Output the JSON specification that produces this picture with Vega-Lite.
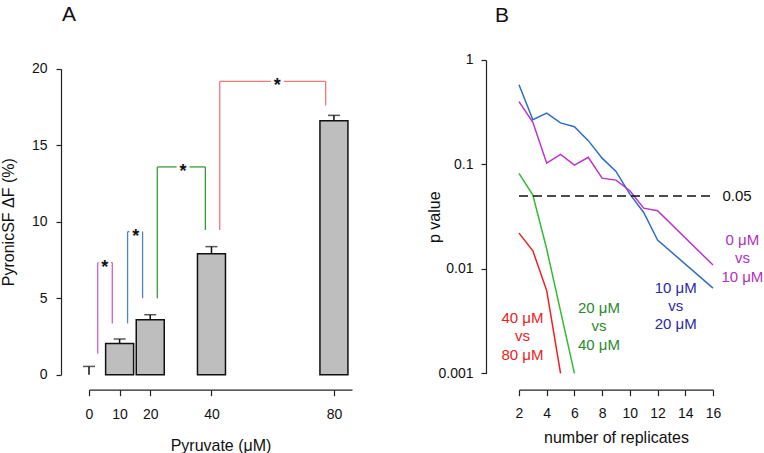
{
  "$schema": "https://vega.github.io/schema/vega-lite/v6.json",
  "padding": {"left": 0, "top": 4, "right": 0, "bottom": 0},
  "spacing": 74,
  "config": {
    "font": "Liberation Sans",
    "view": {"stroke": null},
    "axis": {"grid": false, "domainColor": "#222", "tickColor": "#222", "labelColor": "#111", "titleColor": "#111", "labelFontSize": 14, "titleFontSize": 16, "titleFontWeight": "normal", "domainWidth": 1.2, "tickWidth": 1.2, "labelFont": "Liberation Sans", "titleFont": "Liberation Sans", "labelOverlap": false, "labelFlush": false},
    "title": {"fontSize": 21, "fontWeight": "normal", "anchor": "start", "frame": "group", "font": "Liberation Sans", "color": "#111"}
  },
  "datasets": {
    "bars": [
      {"conc": 0, "mean": 0, "upper": 0.54},
      {"conc": 10, "mean": 2.04, "upper": 2.33},
      {"conc": 20, "mean": 3.59, "upper": 3.92},
      {"conc": 40, "mean": 7.9, "upper": 8.37},
      {"conc": 80, "mean": 16.6, "upper": 16.95}
    ],
    "brackets": [
      {"pair": "0 vs 10", "x": 2.84, "x2": 2.84, "y": 1.37, "y2": 7.33},
      {"pair": "0 vs 10", "x": 7.6, "x2": 7.6, "y": 3.35, "y2": 7.33},
      {"pair": "0 vs 10", "x": 2.84, "x2": 3.1, "y": 7.33, "y2": 7.33},
      {"pair": "0 vs 10", "x": 7.2, "x2": 7.6, "y": 7.33, "y2": 7.33},
      {"pair": "10 vs 20", "x": 12.6, "x2": 12.6, "y": 3.35, "y2": 9.35},
      {"pair": "10 vs 20", "x": 17.5, "x2": 17.5, "y": 5.0, "y2": 9.35},
      {"pair": "10 vs 20", "x": 12.6, "x2": 13.2, "y": 9.35, "y2": 9.35},
      {"pair": "10 vs 20", "x": 17.4, "x2": 17.5, "y": 9.35, "y2": 9.35},
      {"pair": "20 vs 40", "x": 22.3, "x2": 22.3, "y": 5.0, "y2": 13.58},
      {"pair": "20 vs 40", "x": 38.0, "x2": 38.0, "y": 9.45, "y2": 13.58},
      {"pair": "20 vs 40", "x": 22.3, "x2": 28.6, "y": 13.58, "y2": 13.58},
      {"pair": "20 vs 40", "x": 32.8, "x2": 38.0, "y": 13.58, "y2": 13.58},
      {"pair": "40 vs 80", "x": 42.7, "x2": 42.7, "y": 9.45, "y2": 19.17},
      {"pair": "40 vs 80", "x": 77.3, "x2": 77.3, "y": 17.6, "y2": 19.17},
      {"pair": "40 vs 80", "x": 42.7, "x2": 59.4, "y": 19.17, "y2": 19.17},
      {"pair": "40 vs 80", "x": 63.6, "x2": 77.3, "y": 19.17, "y2": 19.17}
    ],
    "stars": [
      {"x": 5.13, "y": 7.33},
      {"x": 15.3, "y": 9.35},
      {"x": 30.7, "y": 13.58},
      {"x": 61.5, "y": 19.17}
    ],
    "pvals": [
      {"comp": "10 vs 20", "n": 2, "p": 0.58},
      {"comp": "10 vs 20", "n": 3, "p": 0.268},
      {"comp": "10 vs 20", "n": 4, "p": 0.31},
      {"comp": "10 vs 20", "n": 5, "p": 0.25},
      {"comp": "10 vs 20", "n": 6, "p": 0.23},
      {"comp": "10 vs 20", "n": 7, "p": 0.169},
      {"comp": "10 vs 20", "n": 8, "p": 0.115},
      {"comp": "10 vs 20", "n": 9, "p": 0.0857},
      {"comp": "10 vs 20", "n": 10, "p": 0.052},
      {"comp": "10 vs 20", "n": 11, "p": 0.0347},
      {"comp": "10 vs 20", "n": 12, "p": 0.0189},
      {"comp": "10 vs 20", "n": 16, "p": 0.00655},
      {"comp": "0 vs 10", "n": 2, "p": 0.40},
      {"comp": "0 vs 10", "n": 3, "p": 0.253},
      {"comp": "0 vs 10", "n": 4, "p": 0.103},
      {"comp": "0 vs 10", "n": 5, "p": 0.125},
      {"comp": "0 vs 10", "n": 6, "p": 0.0987},
      {"comp": "0 vs 10", "n": 7, "p": 0.117},
      {"comp": "0 vs 10", "n": 8, "p": 0.074},
      {"comp": "0 vs 10", "n": 9, "p": 0.0708},
      {"comp": "0 vs 10", "n": 10, "p": 0.056},
      {"comp": "0 vs 10", "n": 11, "p": 0.0382},
      {"comp": "0 vs 10", "n": 12, "p": 0.036},
      {"comp": "0 vs 10", "n": 16, "p": 0.0109},
      {"comp": "20 vs 40", "n": 2, "p": 0.082},
      {"comp": "20 vs 40", "n": 3, "p": 0.051},
      {"comp": "20 vs 40", "n": 4, "p": 0.0155},
      {"comp": "20 vs 40", "n": 6, "p": 0.001},
      {"comp": "40 vs 80", "n": 2, "p": 0.022},
      {"comp": "40 vs 80", "n": 3, "p": 0.0149},
      {"comp": "40 vs 80", "n": 4, "p": 0.0062},
      {"comp": "40 vs 80", "n": 5, "p": 0.001}
    ],
    "threshold": [
      {"n": 2, "p": 0.05},
      {"n": 16, "p": 0.05}
    ],
    "thresholdLabel": [
      {"n": 16.68, "p": 0.05, "label": "0.05"}
    ],
    "groupLabels": [
      {"group": "0 vs 10", "n": 18.12, "p": 0.019, "label": "0 μM\nvs\n10 μM"},
      {"group": "10 vs 20", "n": 13.31, "p": 0.00664, "label": "10 μM\nvs\n20 μM"},
      {"group": "20 vs 40", "n": 7.77, "p": 0.00427, "label": "20 μM\nvs\n40 μM"},
      {"group": "40 vs 80", "n": 2.245, "p": 0.00342, "label": "40 μM\nvs\n80 μM"}
    ]
  },
  "hconcat": [
    {
      "width": 263,
      "height": 314.7,
      "title": {"text": "A", "dx": -27, "offset": 18, "baseline": "alphabetic"},
      "layer": [
        {
          "data": {"name": "brackets"},
          "mark": {"type": "rule", "strokeWidth": 1.3},
          "encoding": {
            "x": {"field": "x", "type": "quantitative", "scale": {"domain": [0, 85.9], "nice": false, "zero": false, "padding": 0},
                  "axis": {"title": "Pyruvate (μM)", "values": [0, 10, 20, 40, 80], "tickCount": 10, "format": "d", "offset": 15, "tickSize": 6, "labelPadding": 12, "titlePadding": 16, "labelFlush": false, "labelOverlap": false}},
            "x2": {"field": "x2"},
            "y": {"field": "y", "type": "quantitative", "scale": {"domain": [0, 20], "range": [314.7, 8.7], "nice": false},
                  "axis": {"title": "PyronicSF ΔF (%)", "values": [0, 5, 10, 15, 20], "tickCount": 10, "format": "d", "offset": 28, "tickSize": 5, "labelPadding": 9, "titlePadding": 15, "labelFlush": false, "labelOverlap": false}},
            "y2": {"field": "y2"},
            "color": {"field": "pair", "type": "nominal", "legend": null,
                      "scale": {"domain": ["0 vs 10", "10 vs 20", "20 vs 40", "40 vs 80"], "range": ["#d060d0", "#4a86c8", "#3a9a3a", "#f07878"]}}
          }
        },
        {
          "data": {"name": "bars"},
          "transform": [{"filter": "datum.mean > 0"}],
          "mark": {"type": "bar", "width": 28, "fill": "#bebebe", "stroke": "#111", "strokeWidth": 1.5},
          "encoding": {
            "x": {"field": "conc", "type": "quantitative"},
            "y": {"field": "mean", "type": "quantitative"}
          }
        },
        {
          "data": {"name": "bars"},
          "mark": {"type": "rule", "strokeWidth": 1.5, "color": "#111"},
          "encoding": {
            "x": {"field": "conc", "type": "quantitative"},
            "y": {"field": "mean", "type": "quantitative"},
            "y2": {"field": "upper"}
          }
        },
        {
          "data": {"name": "bars"},
          "mark": {"type": "tick", "orient": "horizontal", "size": 12, "thickness": 1.5, "color": "#111"},
          "encoding": {
            "x": {"field": "conc", "type": "quantitative"},
            "y": {"field": "upper", "type": "quantitative"}
          }
        },
        {
          "data": {"name": "stars"},
          "mark": {"type": "text", "text": "*", "fontSize": 18, "fontWeight": "bold", "baseline": "middle", "dy": 5, "color": "#111"},
          "encoding": {
            "x": {"field": "x", "type": "quantitative"},
            "y": {"field": "y", "type": "quantitative"}
          }
        }
      ]
    },
    {
      "width": 194,
      "height": 314.7,
      "title": {"text": "B", "dx": -24, "offset": 10, "baseline": "alphabetic"},
      "resolve": {"scale": {"color": "independent"}},
      "layer": [
        {
          "data": {"name": "pvals"},
          "mark": {"type": "line", "strokeWidth": 1.5},
          "encoding": {
            "x": {"field": "n", "type": "quantitative", "scale": {"domain": [2, 16], "nice": false, "zero": false, "padding": 0},
                  "axis": {"title": "number of replicates", "values": [2, 4, 6, 8, 10, 12, 14, 16], "tickCount": 20, "format": "d", "offset": 15, "tickSize": 6, "labelPadding": 11, "titlePadding": 9, "labelFlush": false, "labelOverlap": false}},
            "y": {"field": "p", "type": "quantitative", "scale": {"type": "log", "domain": [0.001, 1], "range": [313.4, 0], "nice": false},
                  "axis": {"title": "p value", "values": [0.001, 0.01, 0.1, 1], "tickCount": 10, "format": "~g", "offset": 33, "tickSize": 5, "labelPadding": 8, "titlePadding": -5, "labelFlush": false, "labelOverlap": false}},
            "color": {"field": "comp", "type": "nominal", "legend": null,
                      "scale": {"domain": ["0 vs 10", "10 vs 20", "20 vs 40", "40 vs 80"], "range": ["#bb33cc", "#2f6fbf", "#33bb33", "#ee2222"]}}
          }
        },
        {
          "data": {"name": "threshold"},
          "mark": {"type": "line", "strokeDash": [9, 5], "strokeWidth": 1.5, "color": "#111"},
          "encoding": {
            "x": {"field": "n", "type": "quantitative"},
            "y": {"field": "p", "type": "quantitative"}
          }
        },
        {
          "data": {"name": "thresholdLabel"},
          "mark": {"type": "text", "align": "left", "baseline": "middle", "fontSize": 15, "color": "#111"},
          "encoding": {
            "x": {"field": "n", "type": "quantitative"},
            "y": {"field": "p", "type": "quantitative"},
            "text": {"field": "label"}
          }
        },
        {
          "data": {"name": "groupLabels"},
          "mark": {"type": "text", "align": "center", "baseline": "middle", "fontSize": 15, "lineBreak": "\n", "lineHeight": 18.5},
          "encoding": {
            "x": {"field": "n", "type": "quantitative"},
            "y": {"field": "p", "type": "quantitative"},
            "text": {"field": "label"},
            "color": {"field": "group", "type": "nominal", "legend": null,
                      "scale": {"domain": ["0 vs 10", "10 vs 20", "20 vs 40", "40 vs 80"], "range": ["#b030c0", "#2a2aa8", "#2a8a2a", "#ee2020"]}}
          }
        }
      ]
    }
  ]
}
